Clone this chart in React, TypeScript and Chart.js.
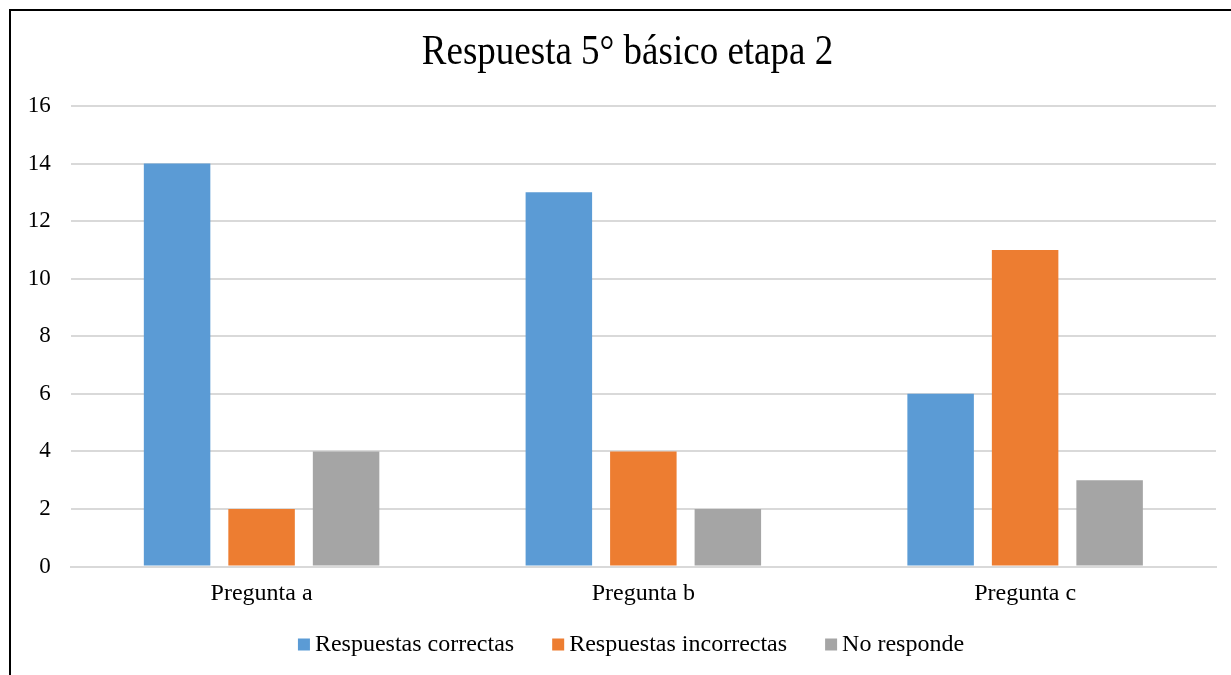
import React, { useEffect, useRef } from "react";
import { Chart, registerables } from "chart.js";

Chart.register(...registerables);

const categories = ["Pregunta a", "Pregunta b", "Pregunta c"];
const correctas = [14, 13, 6];
const incorrectas = [2, 4, 11];
const noResponde = [4, 2, 3];
const seriesNames = ["Respuestas correctas", "Respuestas incorrectas", "No responde"];
const seriesColors = ["#5b9bd5", "#ed7d31", "#a5a5a5"];
const titleText = "Respuesta 5° básico etapa 2";

const FONT = "'Liberation Serif', 'Times New Roman', serif";

const titleLegendPlugin = {
  id: "titleLegend",
  afterDraw(chart: any) {
    const ctx = chart.ctx as CanvasRenderingContext2D;
    ctx.save();
    // title
    ctx.fillStyle = "#000";
    ctx.font = `37px ${FONT}`;
    ctx.textAlign = "center";
    ctx.textBaseline = "alphabetic";
    ctx.save();
    ctx.translate(627.5, 64);
    ctx.scale(1, 1.15);
    ctx.fillText(titleText, 0, 0);
    ctx.restore();
    // legend
    ctx.font = `24px ${FONT}`;
    ctx.textAlign = "left";
    const ds = chart.data.datasets;
    const box = 12;
    const gapText = 5;
    const gapItem = 38;
    let total = 0;
    ds.forEach((d: any, i: number) => {
      total += box + gapText + ctx.measureText(d.label).width + (i < ds.length - 1 ? gapItem : 0);
    });
    let x = 631 - total / 2;
    ds.forEach((d: any) => {
      ctx.fillStyle = d.backgroundColor;
      ctx.fillRect(x, 638.5, box, box);
      ctx.fillStyle = "#000";
      ctx.fillText(d.label, x + box + gapText, 651);
      x += box + gapText + ctx.measureText(d.label).width + gapItem;
    });
    ctx.restore();
  },
};

export default function App() {
  const ref = useRef<HTMLCanvasElement | null>(null);

  useEffect(() => {
    document.body.style.margin = "0";
    const ctx = ref.current!;
    const chart = new Chart(ctx, {
      type: "bar",
      data: {
        labels: categories,
        datasets: seriesNames.map((name, i) => ({
          label: name,
          data: [correctas, incorrectas, noResponde][i],
          backgroundColor: seriesColors[i],
        })),
      },
      plugins: [titleLegendPlugin],
      options: {
        responsive: false,
        animation: false,
        maintainAspectRatio: false,
        datasets: { bar: { categoryPercentage: 0.664, barPercentage: 0.787 } },
        layout: { padding: { left: 0, right: 15, top: 106, bottom: 0 } },
        plugins: {
          title: { display: false },
          legend: { display: false },
          tooltip: { enabled: false },
        },
        scales: {
          x: {
            grid: { display: false, drawTicks: false },
            border: { display: true, color: "#d9d9d9", width: 2 },
            ticks: { color: "#000", font: { family: FONT, size: 24 }, padding: 13 },
            afterFit: (s: any) => {
              s.height = 108.5;
            },
          },
          y: {
            min: 0,
            max: 16,
            grid: { color: "#d9d9d9", lineWidth: 2, drawTicks: false },
            border: { display: false },
            ticks: { stepSize: 2, color: "#000", font: { family: FONT, size: 23 }, padding: 20 },
            afterFit: (s: any) => {
              s.width = 70.7;
            },
          },
        },
      },
    });
    return () => chart.destroy();
  }, []);

  return (
    <div style={{ position: "fixed", left: 0, top: 0, width: 1231, height: 675, overflow: "hidden", background: "#fff" }}>
      <div
        style={{
          position: "absolute",
          left: 9,
          top: 9,
          width: 1400,
          height: 800,
          borderLeft: "2px solid #000",
          borderTop: "2px solid #000",
        }}
      />
      <canvas ref={ref} width={1231} height={675} style={{ position: "absolute", left: 0, top: 0 }} />
    </div>
  );
}
